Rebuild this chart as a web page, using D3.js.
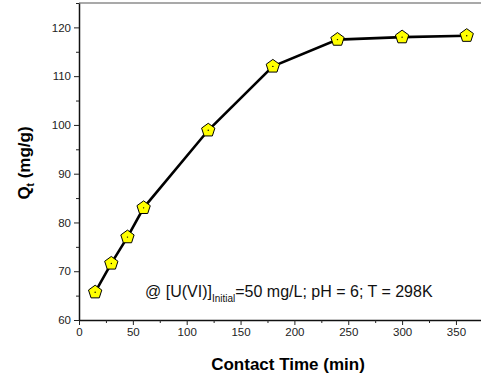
<!DOCTYPE html>
<html>
<head>
<meta charset="utf-8">
<script src="https://cdn.jsdelivr.net/npm/d3@7"></script>
<style>
  body { margin: 0; background: #fff; }
  text { font-family: "Liberation Sans", Arial, sans-serif; }
</style>
</head>
<body>
<div id="chart"></div>
<script>
// contact time (min) and uptake Qt (mg/g)
var times = [15, 30, 45, 60, 120, 180, 240, 300, 360];
var qt = [65.7, 71.6, 77.0, 83.0, 98.9, 112.0, 117.5, 118.0, 118.3];
var xTicks = [0, 50, 100, 150, 200, 250, 300, 350];
var yTicks = [60, 70, 80, 90, 100, 110, 120];

var W = 481, H = 381;
var margin = {left: 79, top: 3, right: 0, bottom: 61};

var svg = d3.select("#chart").append("svg")
    .attr("width", W)
    .attr("height", H);

var xScale = d3.scaleLinear().domain([0, 375]).range([margin.left, margin.left + 375 * 1.077]);
var yScale = d3.scaleLinear().domain([60, 125]).range([320, margin.top]);

// top frame line
svg.append("line")
    .attr("x1", xScale(0)).attr("x2", W + 5)
    .attr("y1", yScale(125)).attr("y2", yScale(125))
    .style("stroke", "#555").style("stroke-width", 1.2);

var xAxis = svg.append("g")
    .attr("transform", "translate(0," + yScale(60) + ")")
    .call(d3.axisBottom(xScale).tickValues(xTicks).tickSize(5).tickSizeOuter(0).tickPadding(3));
// minor x ticks
svg.append("g")
    .attr("transform", "translate(0," + yScale(60) + ")")
    .call(d3.axisBottom(xScale).tickValues([25, 75, 125, 175, 225, 275, 325, 375]).tickSize(3).tickFormat(""))
    .select(".domain").remove();

var yAxis = svg.append("g")
    .attr("transform", "translate(" + xScale(0) + ",0)")
    .call(d3.axisLeft(yScale).tickValues(yTicks).tickSize(5).tickSizeOuter(0).tickPadding(3));
svg.append("g")
    .attr("transform", "translate(" + xScale(0) + ",0)")
    .call(d3.axisLeft(yScale).tickValues([65, 75, 85, 95, 105, 115, 125]).tickSize(3).tickFormat(""))
    .select(".domain").remove();

svg.selectAll(".domain").style("stroke", "#111").style("stroke-width", 1.5);
svg.selectAll(".tick line").style("stroke", "#222");
svg.selectAll(".tick text")
    .style("font-family", "'Liberation Sans', Arial, sans-serif")
    .style("font-size", "11.5px")
    .style("fill", "#222");

// data line
var line = d3.line()
    .x(function(d, i) { return xScale(times[i]); })
    .y(function(d) { return yScale(d); });

svg.append("path")
    .datum(qt)
    .attr("d", line)
    .style("fill", "none")
    .style("stroke", "#000")
    .style("stroke-width", 2.6);

// pentagon markers
var pentagon = {
    draw: function(context, size) {
        var r = Math.sqrt(size);
        for (var k = 0; k < 5; k++) {
            var a = -Math.PI / 2 + k * 2 * Math.PI / 5;
            if (k == 0) context.moveTo(r * Math.cos(a), r * Math.sin(a));
            else context.lineTo(r * Math.cos(a), r * Math.sin(a));
        }
        context.closePath();
    }
};

svg.selectAll(".marker")
    .data(qt)
    .enter().append("path")
    .attr("class", "marker")
    .attr("transform", function(d, i) { return "translate(" + xScale(times[i]) + "," + yScale(d) + ")"; })
    .attr("d", d3.symbol().type(pentagon).size(49))
    .style("fill", "#ffff00")
    .style("stroke", "#000")
    .style("stroke-width", 1);

svg.selectAll(".dot")
    .data(qt)
    .enter().append("circle")
    .attr("class", "dot")
    .attr("cx", function(d, i) { return xScale(times[i]); })
    .attr("cy", function(d) { return yScale(d); })
    .attr("r", 0.7)
    .style("fill", "#000");

// annotation
var note = svg.append("text")
    .attr("x", 145).attr("y", 297)
    .style("font-size", "16px")
    .style("fill", "#111");
note.append("tspan").text("@ [U(VI)]");
note.append("tspan").attr("dy", 5).style("font-size", "10px").text("Initial");
note.append("tspan").attr("dy", -5).text("=50 mg/L; pH = 6; T = 298K");

// axis titles
svg.append("text")
    .attr("x", 288).attr("y", 370)
    .attr("text-anchor", "middle")
    .style("font-size", "17px")
    .style("font-weight", "bold")
    .text("Contact Time (min)");

var yl = svg.append("text")
    .attr("transform", "translate(30,163) rotate(-90)")
    .attr("text-anchor", "middle")
    .style("font-size", "17px")
    .style("font-weight", "bold");
yl.append("tspan").text("Q");
yl.append("tspan").attr("dy", 4).style("font-size", "10px").text("t");
yl.append("tspan").attr("dy", -4).text(" (mg/g)");
</script>
</body>
</html>
